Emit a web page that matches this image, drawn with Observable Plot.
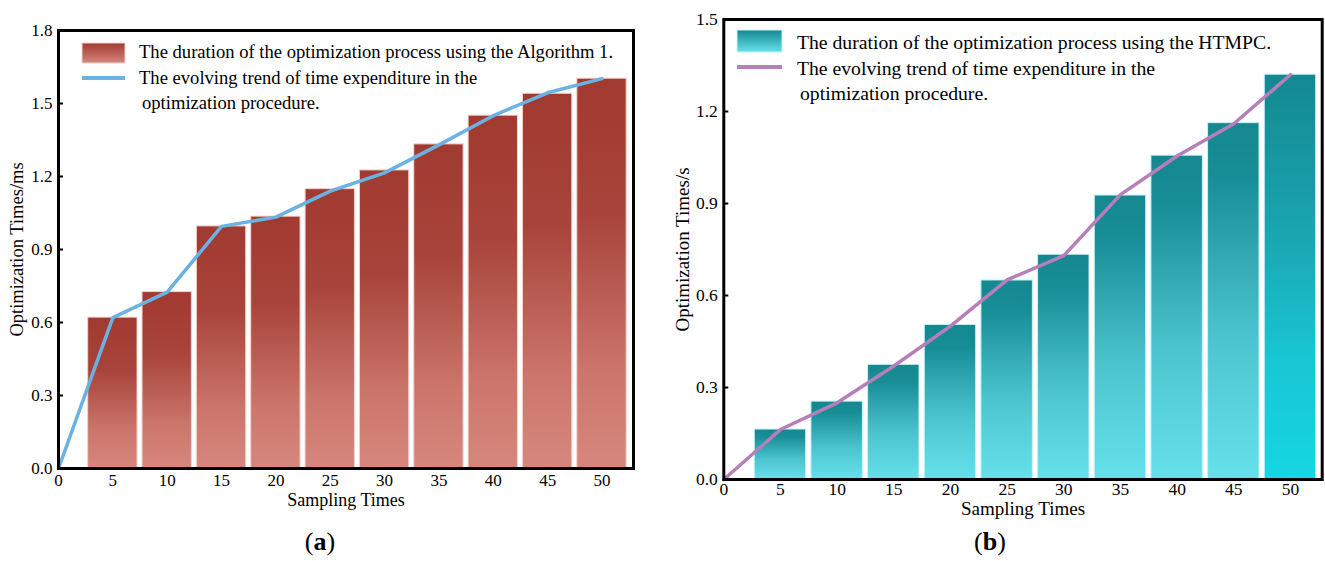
<!DOCTYPE html>
<html><head><meta charset="utf-8">
<script src="https://cdn.jsdelivr.net/npm/d3@7"></script>
<script src="https://cdn.jsdelivr.net/npm/@observablehq/plot@0.6"></script>
<style>
body{margin:0;background:#fff;}
#wrap{position:relative;width:1325px;height:561px;overflow:hidden;font-family:"Liberation Serif",serif;background:#fff;}
.panel{position:absolute;top:0;}
.cap{position:absolute;top:527px;font-size:26px;line-height:30px;transform:translateX(-50%);color:#000;}
</style></head>
<body><div id="wrap"><div id="pa" class="panel" style="left:0"></div><div id="pb" class="panel" style="left:662px"></div>
<div class="cap" style="left:320px">(<b>a</b>)</div><div class="cap" style="left:990px">(<b>b</b>)</div></div>
<script>
// ---- data ----
const samplingTimes = [5, 10, 15, 20, 25, 30, 35, 40, 45, 50];
const algo1Durations = [0.62, 0.725, 0.995, 1.035, 1.148, 1.225, 1.332, 1.45, 1.54, 1.602];
const trendX = [0, 5, 10, 15, 20, 25, 30, 35, 40, 45, 50];
const algo1Trend = [0, 0.62, 0.725, 0.995, 1.033, 1.14, 1.215, 1.33, 1.45, 1.544, 1.602];
const htmpcDurations = [0.163, 0.254, 0.374, 0.504, 0.649, 0.733, 0.926, 1.056, 1.162, 1.32];
const htmpcTrend = [0, 0.163, 0.25, 0.37, 0.5, 0.651, 0.73, 0.929, 1.055, 1.16, 1.32];
const xTicks = [0, 5, 10, 15, 20, 25, 30, 35, 40, 45, 50];
const yTicksA = [0, 0.3, 0.6, 0.9, 1.2, 1.5, 1.8];
const yTicksB = [0, 0.3, 0.6, 0.9, 1.2, 1.5];
const xLabel = "Sampling Times";
const yLabelA = "Optimization Times/ms";
const yLabelB = "Optimization Times/s";
const legendA = ["The duration of the optimization process using the Algorithm 1.", "The evolving trend of time expenditure in the", "optimization procedure."];
const legendB = ["The duration of the optimization process using the HTMPC.", "The evolving trend of time expenditure in the", "optimization procedure."];

const barsA = samplingTimes.map((x, i) => ({x, v: algo1Durations[i]}));
const lineA = trendX.map((x, i) => ({x, v: algo1Trend[i]}));
const barsB = samplingTimes.map((x, i) => ({x, v: htmpcDurations[i]}));
const lineB = trendX.map((x, i) => ({x, v: htmpcTrend[i]}));
const HALF = 2.27;

function addGradient(defs, id, stops) {
  const g = defs.append("linearGradient").attr("id", id).attr("x1", 0).attr("y1", 0).attr("x2", 0).attr("y2", 1);
  stops.forEach(([o, c]) => g.append("stop").attr("offset", o).attr("stop-color", c));
}
function addLegend(svg, o) {
  const g = d3.select(svg).append("g").attr("font-family", "Liberation Serif").attr("font-size", o.fs).attr("fill", "#000").attr("text-anchor", "start");
  g.append("rect").attr("x", o.rx).attr("y", o.ry).attr("width", o.rw).attr("height", o.rh).attr("fill", o.fill).attr("stroke", o.rstroke).attr("stroke-width", 1);
  g.append("line").attr("x1", o.rx).attr("x2", o.rx + o.rw).attr("y1", o.ly).attr("y2", o.ly).attr("stroke", o.lcolor).attr("stroke-width", 4);
  o.texts.forEach((t, i) => g.append("text").attr("x", o.tx + (i === 2 ? 3 : 0)).attr("y", o.ty + i * o.lh).text(t));
}

// ---- chart (a) ----
const plotA = Plot.plot({
  width: 662, height: 530,
  marginLeft: 58, marginRight: 29, marginTop: 30, marginBottom: 62,
  style: {fontFamily: "Liberation Serif", fontSize: "17px", color: "#000", background: "transparent"},
  x: {domain: [0, 52.9]},
  y: {domain: [0, 1.8]},
  marks: [
    Plot.rectY(barsA, {x1: d => d.x - HALF, x2: d => d.x + HALF, y: "v", fill: "url(#gradA)", stroke: "#f3d2cc", strokeWidth: 1}),
    Plot.line(lineA, {x: "x", y: "v", stroke: "#6ab2e2", strokeWidth: 3.5}),
    Plot.axisY({ticks: yTicksA, tickSize: 0, tickPadding: 6, tickFormat: ".1f", label: null}),
    Plot.axisY({ticks: yTicksA, tickSize: 5, dx: 5, fill: "none", strokeWidth: 2, label: null}),
    Plot.axisX({ticks: xTicks, tickSize: 0, tickPadding: 5, label: null}),
    Plot.text([yLabelA], {text: d => d, frameAnchor: "left", rotate: -90, dx: -41, fontSize: 18.5, textAnchor: "middle", lineAnchor: "middle"}),
    Plot.text([xLabel], {text: d => d, frameAnchor: "bottom", dy: 32, fontSize: 18, textAnchor: "middle", lineAnchor: "middle"}),
    Plot.frame({stroke: "#000", strokeWidth: 3})
  ]
});
{
  const defs = d3.select(plotA).insert("defs", ":first-child");
  addGradient(defs, "gradA", [[0, "#a13a31"], [0.35, "#a8443b"], [0.75, "#cb756b"], [1, "#d6877d"]]);
  addGradient(defs, "gradAleg", [[0, "#a13a31"], [1, "#d6877d"]]);
  addLegend(plotA, {rx: 82, ry: 43, rw: 43, rh: 20, fill: "url(#gradAleg)", rstroke: "#f3d2cc", ly: 78, lcolor: "#6ab2e2",
    tx: 139, ty: 58, lh: 25.5, fs: 18.6, texts: legendA});
}
document.getElementById("pa").appendChild(plotA);

// ---- chart (b) ----
const plotB = Plot.plot({
  width: 663, height: 530,
  marginLeft: 61.3, marginRight: 3.3, marginTop: 19, marginBottom: 51,
  style: {fontFamily: "Liberation Serif", fontSize: "17.5px", color: "#000", background: "transparent"},
  x: {domain: [0, 52.8]},
  y: {domain: [0, 1.5]},
  marks: [
    Plot.rectY(barsB.filter(d => d.x !== 50), {x1: d => d.x - HALF, x2: d => d.x + HALF, y: "v", fill: "url(#gradB)", stroke: "#c8f3f6", strokeWidth: 1}),
    Plot.rectY(barsB.filter(d => d.x === 50), {x1: d => d.x - HALF, x2: d => d.x + HALF, y: "v", fill: "url(#gradB2)", stroke: "#c8f3f6", strokeWidth: 1}),
    Plot.line(lineB, {x: "x", y: "v", stroke: "#b67fb9", strokeWidth: 3.5}),
    Plot.axisY({ticks: yTicksB, tickSize: 0, tickPadding: 6, tickFormat: ".1f", label: null}),
    Plot.axisY({ticks: yTicksB, tickSize: 5, dx: 5, fill: "none", strokeWidth: 2, label: null}),
    Plot.axisX({ticks: xTicks, tickSize: 0, tickPadding: 3, label: null}),
    Plot.text([yLabelB], {text: d => d, frameAnchor: "left", rotate: -90, dx: -41, fontSize: 19, textAnchor: "middle", lineAnchor: "middle"}),
    Plot.text([xLabel], {text: d => d, frameAnchor: "bottom", dy: 29, fontSize: 19, textAnchor: "middle", lineAnchor: "middle"}),
    Plot.frame({stroke: "#000", strokeWidth: 3})
  ]
});
{
  const defs = d3.select(plotB).insert("defs", ":first-child");
  addGradient(defs, "gradB", [[0, "#15878f"], [0.15, "#178e96"], [0.6, "#4cc4cf"], [1, "#65e1eb"]]);
  addGradient(defs, "gradB2", [[0, "#138890"], [0.4, "#1aa6b2"], [0.7, "#19c6d3"], [1, "#16d6e3"]]);
  addGradient(defs, "gradBleg", [[0, "#15878f"], [1, "#65e1eb"]]);
  addLegend(plotB, {rx: 75, ry: 30, rw: 45, rh: 22, fill: "url(#gradBleg)", rstroke: "#c8f3f6", ly: 67, lcolor: "#b67fb9",
    tx: 135, ty: 49, lh: 25.5, fs: 19.7, texts: legendB});
}
document.getElementById("pb").appendChild(plotB);
</script>
</body></html>
